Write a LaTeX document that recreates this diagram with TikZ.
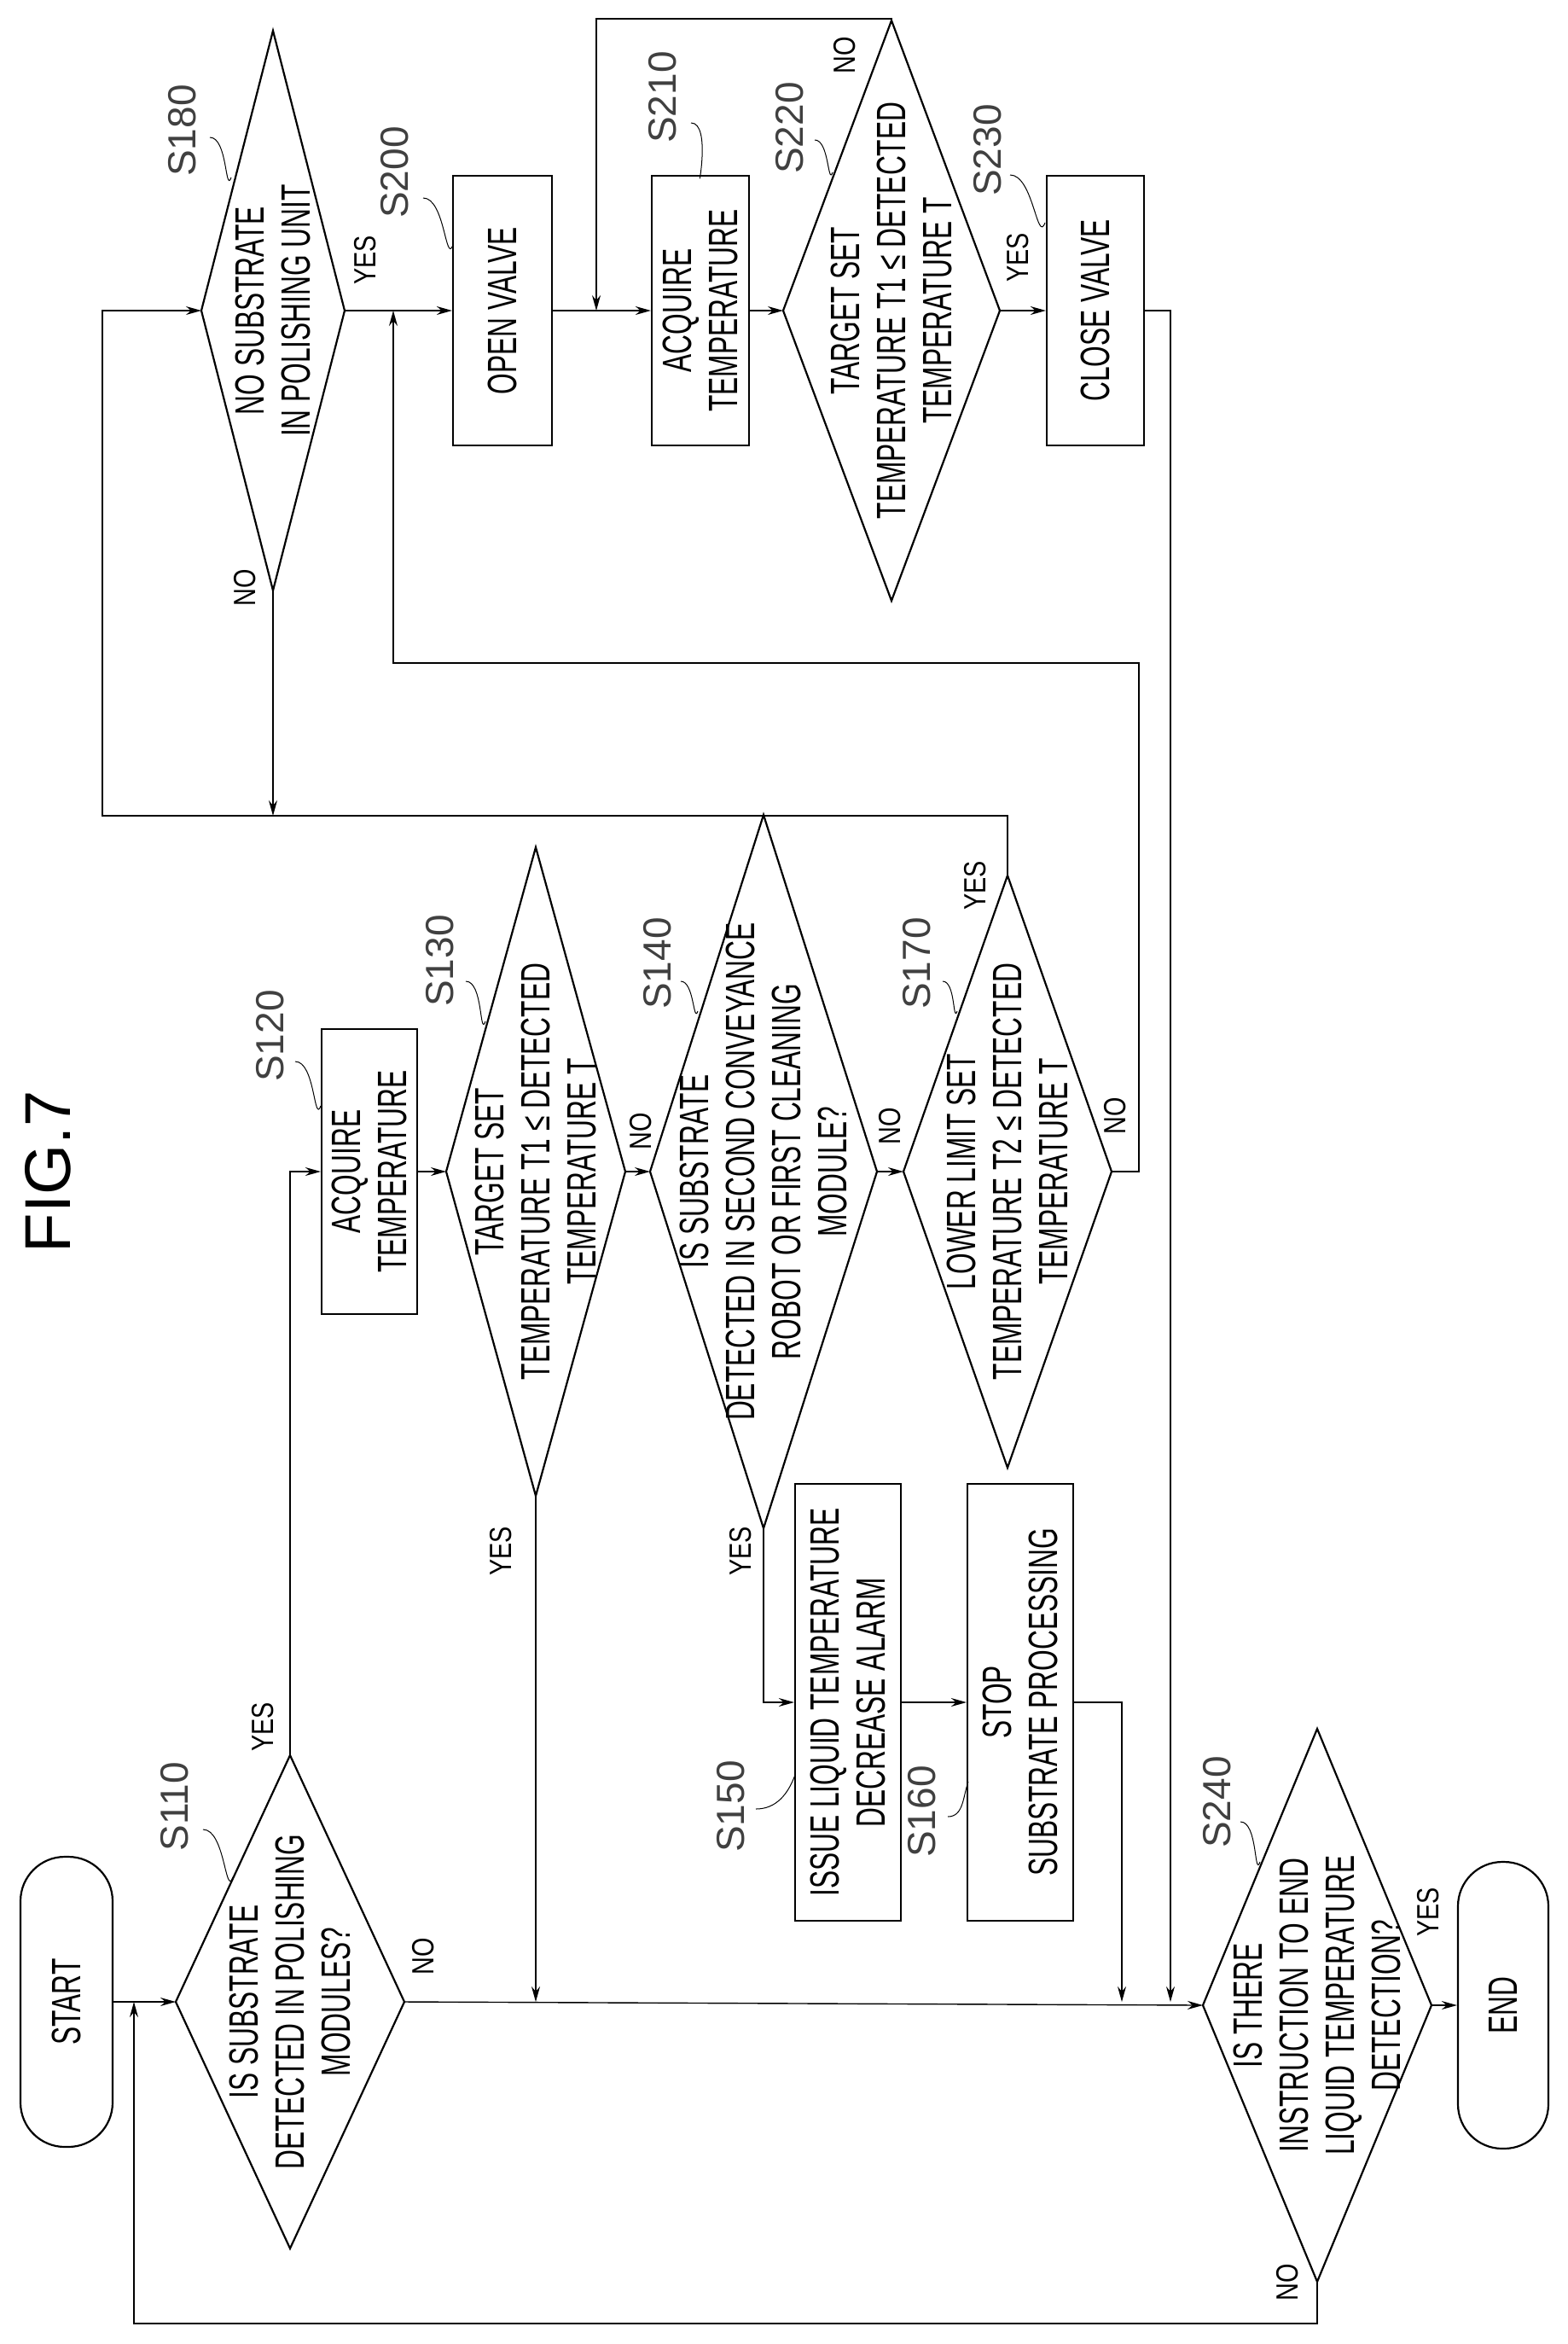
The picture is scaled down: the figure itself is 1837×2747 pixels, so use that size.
\documentclass[tikz,border=0pt]{standalone}
\usepackage{fontspec}
\setmainfont{Liberation Sans}[FakeStretch=0.66]
\newfontfamily\labfont{Liberation Sans}
\newfontfamily\ynfont{Liberation Sans}[FakeStretch=0.8]
\usetikzlibrary{arrows.meta}
\begin{document}
\begin{tikzpicture}[x=0.5pt,y=-0.5pt,
  every node/.style={inner sep=0pt},
  txt/.style={rotate=90,align=center,font=\fontsize{24}{27}\selectfont},
  box/.style={txt,draw,line width=1.1pt},
  term/.style={txt,draw,line width=1.1pt,rounded corners=26pt},
  lab/.style={rotate=90,font=\labfont\fontsize{23}{26}\selectfont,text=black!75},
  yn/.style={rotate=90,font=\ynfont\fontsize{18}{20}\selectfont},
  line/.style={line width=0.7pt},
  arr/.style={line,-{Stealth[length=9pt,width=5pt]}},
  lead/.style={line width=0.5pt}]
\useasboundingbox (0,0) rectangle (1837,2747);
\newcommand{\dia}[6]{%
  \coordinate (#1) at (#2,#3);
  \coordinate (#1-l) at ({#2-#4},#3);
  \coordinate (#1-r) at ({#2+#4},#3);
  \coordinate (#1-t) at (#2,{#3-#5});
  \coordinate (#1-b) at (#2,{#3+#5});
  \draw[line width=1.1pt] (#1-l) -- (#1-t) -- (#1-r) -- (#1-b) -- cycle;
  \node[txt] (#1-x) at (#1) {#6};}
% title
\node[rotate=90,font=\labfont\fontsize{38}{40}\selectfont] (fig) at (56,1373) {FIG.7};
% nodes
\node[term,minimum width=170pt,minimum height=54pt] (start) at (78,2346) {START};
\dia{s110}{340}{2346}{134}{289}{IS SUBSTRATE\\DETECTED IN POLISHING\\MODULES?}
\node[box,minimum width=167pt,minimum height=56pt] (s120) at (433,1373) {ACQUIRE\\TEMPERATURE};
\dia{s130}{628}{1373}{105}{380}{TARGET SET\\TEMPERATURE T1 ≤ DETECTED\\TEMPERATURE T}
\dia{s140}{895}{1373}{133}{418}{IS SUBSTRATE\\DETECTED IN SECOND CONVEYANCE\\ROBOT OR FIRST CLEANING\\MODULE?}
\node[box,minimum width=256pt,minimum height=62pt] (s150) at (994,1995) {ISSUE LIQUID TEMPERATURE\\DECREASE ALARM};
\node[box,minimum width=256pt,minimum height=62pt] (s160) at (1196,1995) {STOP\\SUBSTRATE PROCESSING};
\dia{s170}{1181}{1373}{122}{347}{LOWER LIMIT SET\\TEMPERATURE T2 ≤ DETECTED\\TEMPERATURE T}
\dia{s180}{320}{364}{84}{328}{NO SUBSTRATE\\IN POLISHING UNIT}
\node[box,minimum width=158pt,minimum height=58pt] (s200) at (589,364) {OPEN VALVE};
\node[box,minimum width=158pt,minimum height=57pt] (s210) at (821,364) {ACQUIRE\\TEMPERATURE};
\dia{s220}{1045}{364}{127}{340}{TARGET SET\\TEMPERATURE T1 ≤ DETECTED\\TEMPERATURE T}
\node[box,minimum width=158pt,minimum height=57pt] (s230) at (1284,364) {CLOSE VALVE};
\dia{s240}{1544}{2350}{134}{324}{IS THERE\\INSTRUCTION TO END\\LIQUID TEMPERATURE\\DETECTION?}
\node[term,minimum width=168pt,minimum height=53pt] (end) at (1762,2350) {END};
% junction coordinates
\coordinate (j0) at (157,2346);
\coordinate (lp1) at (1544,2723);
\coordinate (lp2) at (157,2723);
\coordinate (j1) at (628,2346);
\coordinate (j2) at (1315,2346);
\coordinate (j3) at (320,956);
\coordinate (y1) at (1181,956);
\coordinate (y2) at (120,956);
\coordinate (y3) at (120,364);
\coordinate (n1) at (1335,1373);
\coordinate (n2) at (1335,777);
\coordinate (n3) at (461,777);
\coordinate (j4) at (461,364);
\coordinate (t1) at (1045,22);
\coordinate (t2) at (699,22);
\coordinate (j5) at (699,364);
\coordinate (c1) at (1372,364);
\coordinate (j6) at (1372,2346);
% connectors
\draw[arr] (start.south) -- (s110-l);
\draw[arr] (s240-b) -- (lp1) -- (lp2) -- (j0);
\draw[arr] (s110-t) |- (s120.north);
\draw[arr] (s120.south) -- (s130-l);
\draw[arr] (s130-r) -- (s140-l);
\draw[arr] (s140-r) -- (s170-l);
\draw[arr] (s130-b) -- (j1);
\draw[arr] (s110-r) -- (s240-l);
\draw[arr] (s140-b) |- (s150.north);
\draw[arr] (s150.south) -- (s160.north);
\draw[arr] (s160.south) -| (j2);
\draw[arr] (s170-t) -- (y1) -- (y2) -- (y3) -- (s180-l);
\draw[arr] (s180-b) -- (j3);
\draw[arr] (s180-r) -- (s200.north);
\draw[arr] (s170-r) -- (n1) -- (n2) -- (n3) -- (j4);
\draw[arr] (s200.south) -- (s210.north);
\draw[arr] (s210.south) -- (s220-l);
\draw[arr] (s220-t) -- (t1) -- (t2) -- (j5);
\draw[arr] (s220-r) -- (s230.north);
\draw[arr] (s230.south) -- (c1) -- (j6);
\draw[arr] (s240-r) -- (end.north);
% yes / no
\node[yn] (y180) at (428,305) {YES};
\node[yn] (n180) at (287,689) {NO};
\node[yn] (n220) at (990,65) {NO};
\node[yn] (y220) at (1193,302) {YES};
\node[yn] (n130) at (751,1326) {NO};
\node[yn] (n140) at (1043,1320) {NO};
\node[yn] (y170) at (1143,1038) {YES};
\node[yn] (n170) at (1307,1308) {NO};
\node[yn] (y110) at (308,2024) {YES};
\node[yn] (n110) at (496,2293) {NO};
\node[yn] (y130) at (587,1818) {YES};
\node[yn] (y140) at (868,1818) {YES};
\node[yn] (y240) at (1674,2241) {YES};
\node[yn] (n240) at (1509,2675) {NO};
% step labels
\node[lab] (l180) at (214,153) {S180};
\node[lab] (l200) at (463,202) {S200};
\node[lab] (l210) at (777,114) {S210};
\node[lab] (l220) at (926,150) {S220};
\node[lab] (l230) at (1158,176) {S230};
\node[lab] (l120) at (317,1214) {S120};
\node[lab] (l130) at (516,1126) {S130};
\node[lab] (l140) at (771,1129) {S140};
\node[lab] (l170) at (1075,1129) {S170};
\node[lab] (l110) at (205,2117) {S110};
\node[lab] (l150) at (857,2117) {S150};
\node[lab] (l160) at (1081,2123) {S160};
\node[lab] (l240) at (1427,2112) {S240};
\draw[lead] (246,161) to[out=0,in=-110] (271,208);
\draw[lead] (496,232) to[out=0,in=-110] (531,287);
\draw[lead] (810,144) to[out=0,in=-100] (821,205);
\draw[lead] (955,164) to[out=0,in=-110] (976,202);
\draw[lead] (1184,205) to[out=0,in=-110] (1225,261);
\draw[lead] (346,1244) to[out=0,in=-110] (376,1296);
\draw[lead] (546,1150) to[out=0,in=-110] (569,1197);
\draw[lead] (798,1150) to[out=0,in=-110] (818,1185);
\draw[lead] (1105,1150) to[out=0,in=-110] (1122,1185);
\draw[lead] (238,2144) to[out=0,in=-110] (273,2200);
\draw[lead] (886,2120) to[out=0,in=-110] (932,2080);
\draw[lead] (1111,2129) to[out=0,in=-110] (1135,2088);
\draw[lead] (1454,2135) to[out=0,in=-110] (1477,2182);
\end{tikzpicture}
\end{document}
